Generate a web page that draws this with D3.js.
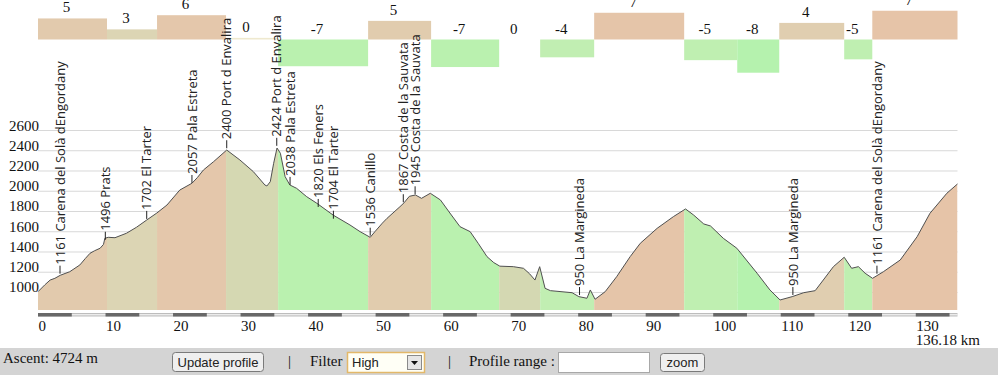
<!DOCTYPE html>
<html>
<head>
<meta charset="utf-8">
<style>
  body { margin: 0; background: #fff; }
  svg { display: block; }
  .y .domain, .x .domain { display: none; }
  .y .tick line { stroke: #d8d8d8; }
  .y .tick text, .x .tick text { font-family: 'Liberation Serif', serif; font-size: 15px; fill: #111; }
  .grade { font-family: 'Liberation Serif', serif; font-size: 15px; fill: #111; }
  .wp text { font-family: 'Open Sans', sans-serif; font-size: 13px; fill: #222; }
  .ui { font-family: 'Liberation Serif', serif; font-size: 15px; fill: #111; }
  .btn { font-family: 'Liberation Sans', Arial, sans-serif; font-size: 13px; fill: #222; }
</style>
</head>
<body>
<svg width="998" height="375"></svg>
<script src="https://d3js.org/d3.v7.min.js"></script>
<script>
// profile points (km, m)
const kmPts = [0, 1.0, 1.8, 2.5, 3.3, 4.7, 6.2, 7.0, 7.7, 8.4, 9.2, 9.7, 9.9, 10.4, 11.4, 13.1, 14.6, 16.1, 17.6, 19.1,
  21.0, 22.8, 23.6, 24.5, 26.0, 27.95, 29.9, 31.9, 33.6, 33.9, 34.4, 34.9, 35.4, 35.9, 36.6, 37.3, 38.3, 39.8, 41.3, 43.7,
  46.2, 47.7, 49.2, 49.9, 51.0, 51.7, 53.6, 54.2, 55.0, 55.9, 56.8, 58.1, 59.6, 61.0, 62.5, 64.0, 65.2, 66.5, 67.5, 68.4,
  70.4, 71.9, 72.8, 73.6, 74.3, 75.1, 75.9, 79.1, 80.1, 81.3, 81.8, 82.5, 84.0, 85.7, 87.7, 89.2, 91.7, 94.1, 95.9, 97.1,
  98.6, 99.6, 101.5, 103.5, 106.5, 108.4, 109.9, 111.7, 113.4, 115.1, 116.3, 117.8, 119.4, 120.5, 121.5, 122.5, 123.6, 125.2, 127.7, 130.2,
  132.1, 134.6, 136.18];
const elevPts = [1003, 1070, 1118, 1135, 1165, 1200, 1267, 1330, 1382, 1408, 1432, 1470, 1530, 1540, 1536, 1580, 1640, 1711, 1780, 1859,
  2007, 2074, 2130, 2205, 2287, 2402, 2304, 2188, 2057, 2047, 2089, 2271, 2422, 2370, 2139, 2057, 2024, 1941, 1876, 1760,
  1662, 1596, 1540, 1596, 1680, 1728, 1842, 1880, 1945, 1958, 1925, 1975, 1909, 1780, 1645, 1596, 1480, 1349, 1290, 1255,
  1250, 1234, 1180, 1118, 1250, 1036, 1013, 993, 954, 938, 1020, 928, 1003, 1151, 1349, 1481, 1629, 1744, 1820, 1760,
  1672, 1652, 1530, 1432, 1185, 1020, 921, 954, 993, 1013, 1118, 1250, 1343, 1234, 1250, 1185, 1135, 1200, 1316, 1546,
  1777, 1975, 2067];

// gradient segments (km breaks, % grade)
const segBreaks = [0, 10.22, 17.63, 27.85, 35.56, 48.89, 58.22, 68.3, 74.37, 82.37, 95.7, 103.56, 109.78, 119.4, 123.56, 136.18];
const segGrade = [5.2, 2.5, 6.0, 0.4, -6.6, 4.6, -6.8, 0, -4.4, 6.6, -5.1, -8.2, 4.1, -4.9, 7.1];

// waypoints
const wpKm = [3.26, 9.97, 16.1, 22.8, 27.95, 35.36, 37.33, 41.5, 43.75, 49.2, 54.1, 55.85, 80.2, 111.8, 124.25];
const wpElev = [1161, 1496, 1702, 2057, 2400, 2424, 2038, 1820, 1704, 1536, 1867, 1945, 950, 950, 1161];
const wpName = ["Carena del Solà dEngordany", "Prats", "El Tarter", "Pala Estreta", "Port d Envalira", "Port d Envalira",
  "Pala Estreta", "Els Feners", "El Tarter", "Canillo", "Costa de la Sauvata", "Costa de la Sauvata",
  "La Margineda", "La Margineda", "Carena del Solà dEngordany"];

const yTicks = [1000, 1200, 1400, 1600, 1800, 2000, 2200, 2400, 2600];
const xTicks = [0, 10, 20, 30, 40, 50, 60, 70, 80, 90, 100, 110, 120, 130];
const totalKm = 136.18;
const ascent = 4724;

const svg = d3.select("svg");

let x = d3.scaleLinear().domain([0, totalKm]).range([38, 957.5]);
let y = d3.scaleLinear().domain([822, 2600]).range([310, 130]);
let gy = v => 39.5 - v * 4.05; // grade bars, 4.05px per %

let col = d3.scaleLinear()
  .domain([-8, -4, 0, 2.5, 4, 7])
  .range(["#b6f2ae", "#c2eeb2", "#d4d8b2", "#dcd5b4", "#e0ceb0", "#e6c4a8"]);

let segs = segGrade.map((v, i) => ({ a: segBreaks[i], b: segBreaks[i + 1], v: v }));
let pts = kmPts.map((k, i) => ({ km: k, e: elevPts[i] }));

// grid + y labels
let yAxis = d3.axisLeft(y).tickValues(yTicks).tickFormat(d3.format("d"))
  .tickSize(-(x.range()[1] - x.range()[0])).tickPadding(-1);
svg.append("g").attr("class", "y axis")
  .attr("transform", "translate(38,0)")
  .call(yAxis)
  .selectAll("text").attr("dy", "0").attr("x", 1);

// area clipped bands
let area = d3.area().x(d => x(d.km)).y0(y(822)).y1(d => y(d.e));
let line = d3.line().x(d => x(d.km)).y(d => y(d.e));

svg.append("clipPath").attr("id", "prof")
  .append("path").attr("d", area(pts));

svg.append("g").attr("clip-path", "url(#prof)")
  .selectAll("rect").data(segs).join("rect")
  .attr("x", d => x(d.a)).attr("width", d => x(d.b) - x(d.a))
  .attr("y", 100).attr("height", 220)
  .attr("fill", d => col(d.v));

svg.append("path").attr("d", line(pts))
  .attr("fill", "none").attr("stroke", "#505050").attr("stroke-width", 1);

// grade bars on top
svg.append("g").selectAll("rect").data(segs).join("rect")
  .attr("x", d => x(d.a)).attr("width", d => x(d.b) - x(d.a))
  .attr("y", d => Math.min(gy(d.v), gy(0)))
  .attr("height", d => Math.abs(gy(d.v) - gy(0)))
  .attr("fill", d => d.v > 0 && d.v < 1 ? "#efe9cf" : col(d.v));

svg.append("g").selectAll("text").data(segs).join("text")
  .attr("class", "grade")
  .attr("x", d => (x(d.a) + x(d.b)) / 2 - 6)
  .attr("y", d => Math.min(gy(d.v), gy(0)) - 6)
  .attr("text-anchor", "middle")
  .text(d => Math.round(d.v) === 0 ? "0" : Math.round(d.v));

// waypoint labels
let wp = svg.append("g").attr("class", "wp").selectAll("g")
  .data(wpKm.map((k, i) => ({ km: k, e: wpElev[i], name: wpName[i] })))
  .join("g")
  .attr("transform", d => `translate(${x(d.km)},${y(d.e) - 2}) rotate(-90)`);
wp.append("line").attr("x1", 0).attr("x2", 8).attr("y1", 0).attr("y2", 0)
  .attr("stroke", "#222").attr("stroke-width", 1);
wp.append("text").attr("x", 9).attr("dy", "0.36em")
  .text(d => d.e + " " + d.name);

// distance scale bar
let sb = svg.append("g");
sb.append("rect").attr("x", x(0)).attr("width", x(totalKm) - x(0)).attr("y", 313).attr("height", 3.5).attr("fill", "#bdbdbd");
sb.append("line").attr("x1", x(0)).attr("x2", x(totalKm)).attr("y1", 314.8).attr("y2", 314.8).attr("stroke", "#fff").attr("stroke-width", 1);
sb.selectAll(".dk").data(xTicks.filter(t => t < totalKm)).join("rect")
  .attr("x", d => x(d)).attr("width", d => x(Math.min(d + 5, totalKm)) - x(d))
  .attr("y", 313).attr("height", 3.5).attr("fill", "#686868");

let xAxis = d3.axisBottom(x).tickValues(xTicks).tickSize(0).tickPadding(0);
svg.append("g").attr("class", "x axis")
  .attr("transform", "translate(0,320)")
  .call(xAxis)
  .selectAll("text").attr("text-anchor", "start").attr("dy", "0.75em");

svg.append("text").attr("class", "ui").attr("x", 980).attr("y", 345).attr("text-anchor", "end")
  .text(totalKm.toFixed(2) + " km");

// control bar
let cb = svg.append("g");
cb.append("rect").attr("x", 0).attr("y", 348).attr("width", 998).attr("height", 27).attr("fill", "#d4d4d4");
cb.append("text").attr("class", "ui").attr("x", 3).attr("y", 363).text("Ascent: " + ascent + " m");

cb.append("rect").attr("x", 172.5).attr("y", 352.5).attr("width", 91).attr("height", 19).attr("rx", 3)
  .attr("fill", "#efefef").attr("stroke", "#7a7a7a");
cb.append("text").attr("class", "btn").attr("x", 218).attr("y", 367).attr("text-anchor", "middle").text("Update profile");

cb.append("text").attr("class", "ui").attr("x", 288).attr("y", 366).text("|").attr("fill", "#777");
cb.append("text").attr("class", "ui").attr("x", 310).attr("y", 366).text("Filter");

cb.append("rect").attr("x", 347.5).attr("y", 352.5).attr("width", 77).attr("height", 20)
  .attr("fill", "#fffff6").attr("stroke", "#e3b869").attr("stroke-width", 1.5);
cb.append("text").attr("class", "btn").attr("x", 352).attr("y", 367).text("High");
cb.append("rect").attr("x", 407.5).attr("y", 355.5).attr("width", 14).attr("height", 14)
  .attr("fill", "#e6e6e6").attr("stroke", "#8a8a8a");
cb.append("path").attr("d", "M411,361 L418,361 L414.5,365 Z").attr("fill", "#111");

cb.append("text").attr("class", "ui").attr("x", 448).attr("y", 366).text("|").attr("fill", "#777");
cb.append("text").attr("class", "ui").attr("x", 469).attr("y", 366).text("Profile range :");
cb.append("rect").attr("x", 558.5).attr("y", 352.5).attr("width", 91).attr("height", 20)
  .attr("fill", "#fff").attr("stroke", "#a8a8a8");

cb.append("rect").attr("x", 660.5).attr("y", 353.5).attr("width", 44).attr("height", 18).attr("rx", 3)
  .attr("fill", "#efefef").attr("stroke", "#7a7a7a");
cb.append("text").attr("class", "btn").attr("x", 682.5).attr("y", 367).attr("text-anchor", "middle").text("zoom");
</script>
</body>
</html>
